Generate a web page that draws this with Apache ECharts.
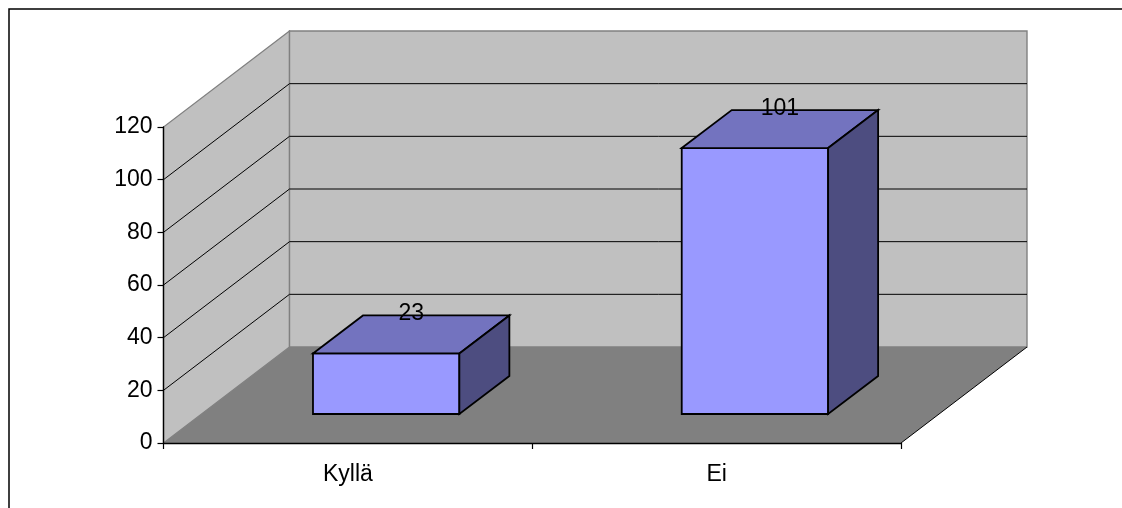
<!DOCTYPE html>
<html>
<head>
<meta charset="utf-8">
<style>
  html, body { margin: 0; padding: 0; background: #fff; }
  #chart { width: 1122px; height: 508px; }
</style>
<script src="https://cdn.jsdelivr.net/npm/echarts@6/dist/echarts.min.js"></script>
</head>
<body>
<div id="chart"></div>
<script>
const categories = ['Kyllä', 'Ei'];
const answers = [23, 101];
const yTicks = [0, 20, 40, 60, 80, 100, 120];

// Projection of the pseudo-3D box: how far the back of the scene sits from the front.
const SCENE_DX = 126, SCENE_DY = 96;
const BAR_DX = 50, BAR_DY = 38;
const BAR_SHIFT_X = 38.3, BAR_SHIFT_Y = 29;
const BAR_WIDTH_RATIO = 0.397;

const FONT = '"Liberation Sans", Arial, sans-serif';
const FONT_SIZE = 23;
const chart = echarts.init(document.getElementById('chart'));

function poly(points, fill, stroke, lineWidth) {
  return {
    type: 'polygon',
    shape: { points },
    style: { fill, stroke: stroke || 'none', lineWidth: lineWidth || 0 }
  };
}
function line(x1, y1, x2, y2, stroke, lineWidth) {
  return { type: 'line', shape: { x1, y1, x2, y2 }, style: { stroke, lineWidth, fill: 'none' } };
}

// Walls, floor and the gridlines running along them.
function renderScene(params, api) {
  const box = params.coordSys;
  const x0 = box.x, x1 = box.x + box.width;
  const y0 = api.coord([0, yTicks[0]])[1];
  const yTop = api.coord([0, yTicks[yTicks.length - 1]])[1];
  const children = [
    poly([[x0, y0], [x0, yTop], [x0 + SCENE_DX, yTop - SCENE_DY], [x0 + SCENE_DX, y0 - SCENE_DY]], '#c0c0c0', '#808080', 1.2),
    poly([[x0 + SCENE_DX, y0 - SCENE_DY], [x0 + SCENE_DX, yTop - SCENE_DY], [x1 + SCENE_DX, yTop - SCENE_DY], [x1 + SCENE_DX, y0 - SCENE_DY]], '#c0c0c0', '#808080', 1.4),
    poly([[x0, y0], [x0 + SCENE_DX, y0 - SCENE_DY], [x1 + SCENE_DX, y0 - SCENE_DY], [x1, y0]], '#808080')
  ];
  yTicks.slice(1, -1).forEach(function (t) {
    const y = api.coord([0, t])[1];
    children.push(line(x0, y, x0 + SCENE_DX, y - SCENE_DY, '#000', 1));
    children.push(line(x0 + SCENE_DX, y - SCENE_DY, x1 + SCENE_DX, y - SCENE_DY, '#000', 1));
  });
  children.push(line(x1, y0, x1 + SCENE_DX, y0 - SCENE_DY, '#000', 1));
  return { type: 'group', children };
}

// A box per category: front, top and side faces plus the value above the top face.
function renderBar(params, api) {
  const base = api.coord([api.value(0), 0]);
  const top = api.coord([api.value(0), api.value(1)]);
  const w = api.size([1, 0])[0] * BAR_WIDTH_RATIO;
  const xl = base[0] + BAR_SHIFT_X - w / 2, xr = xl + w;
  const yb = base[1] - BAR_SHIFT_Y, yt = top[1] - BAR_SHIFT_Y;
  const edge = '#000', lw = 1.8;
  return {
    type: 'group',
    children: [
      poly([[xl, yt], [xr, yt], [xr, yb], [xl, yb]], '#9999ff', edge, lw),
      poly([[xl, yt], [xl + BAR_DX, yt - BAR_DY], [xr + BAR_DX, yt - BAR_DY], [xr, yt]], '#7373bf', edge, lw),
      poly([[xr, yt], [xr + BAR_DX, yt - BAR_DY], [xr + BAR_DX, yb - BAR_DY], [xr, yb]], '#4d4d80', edge, lw),
      {
        type: 'text',
        style: {
          x: (xl + xr + BAR_DX) / 2, y: yt - BAR_DY - 1.5,
          text: String(api.value(1)),
          font: FONT_SIZE + 'px ' + FONT, fill: '#000',
          align: 'center', verticalAlign: 'middle'
        }
      }
    ]
  };
}

chart.setOption({
  animation: false,
  backgroundColor: '#fff',
  graphic: [{
    type: 'polyline',
    shape: { points: [[9, 520], [9, 9], [1130, 9]] },
    style: { stroke: '#000', lineWidth: 1.5, fill: 'none' }
  }],
  grid: { left: 163.5, top: 127, width: 737.5, height: 316 },
  xAxis: {
    type: 'category',
    data: categories,
    z: 5,
    axisLine: { lineStyle: { color: '#000', width: 1.4 } },
    axisTick: { show: true, alignWithLabel: false, length: 6, lineStyle: { color: '#000', width: 1.2 } },
    axisLabel: { color: '#000', fontFamily: FONT, fontSize: FONT_SIZE, margin: 20 }
  },
  yAxis: {
    type: 'value',
    min: 0, max: 120, interval: 20,
    z: 5,
    splitLine: { show: false },
    axisLine: { show: true, lineStyle: { color: '#000', width: 1.4 } },
    axisTick: { show: true, length: 6, lineStyle: { color: '#000', width: 1.2 } },
    axisLabel: { color: '#000', fontFamily: FONT, fontSize: FONT_SIZE, margin: 11 }
  },
  series: [
    { type: 'custom', z: 1, silent: true, clip: false, data: [[0, 0]], renderItem: renderScene },
    { type: 'custom', z: 2, clip: false, data: answers.map((v, i) => [i, v]), encode: { x: 0, y: 1 }, renderItem: renderBar }
  ]
});
</script>
</body>
</html>
